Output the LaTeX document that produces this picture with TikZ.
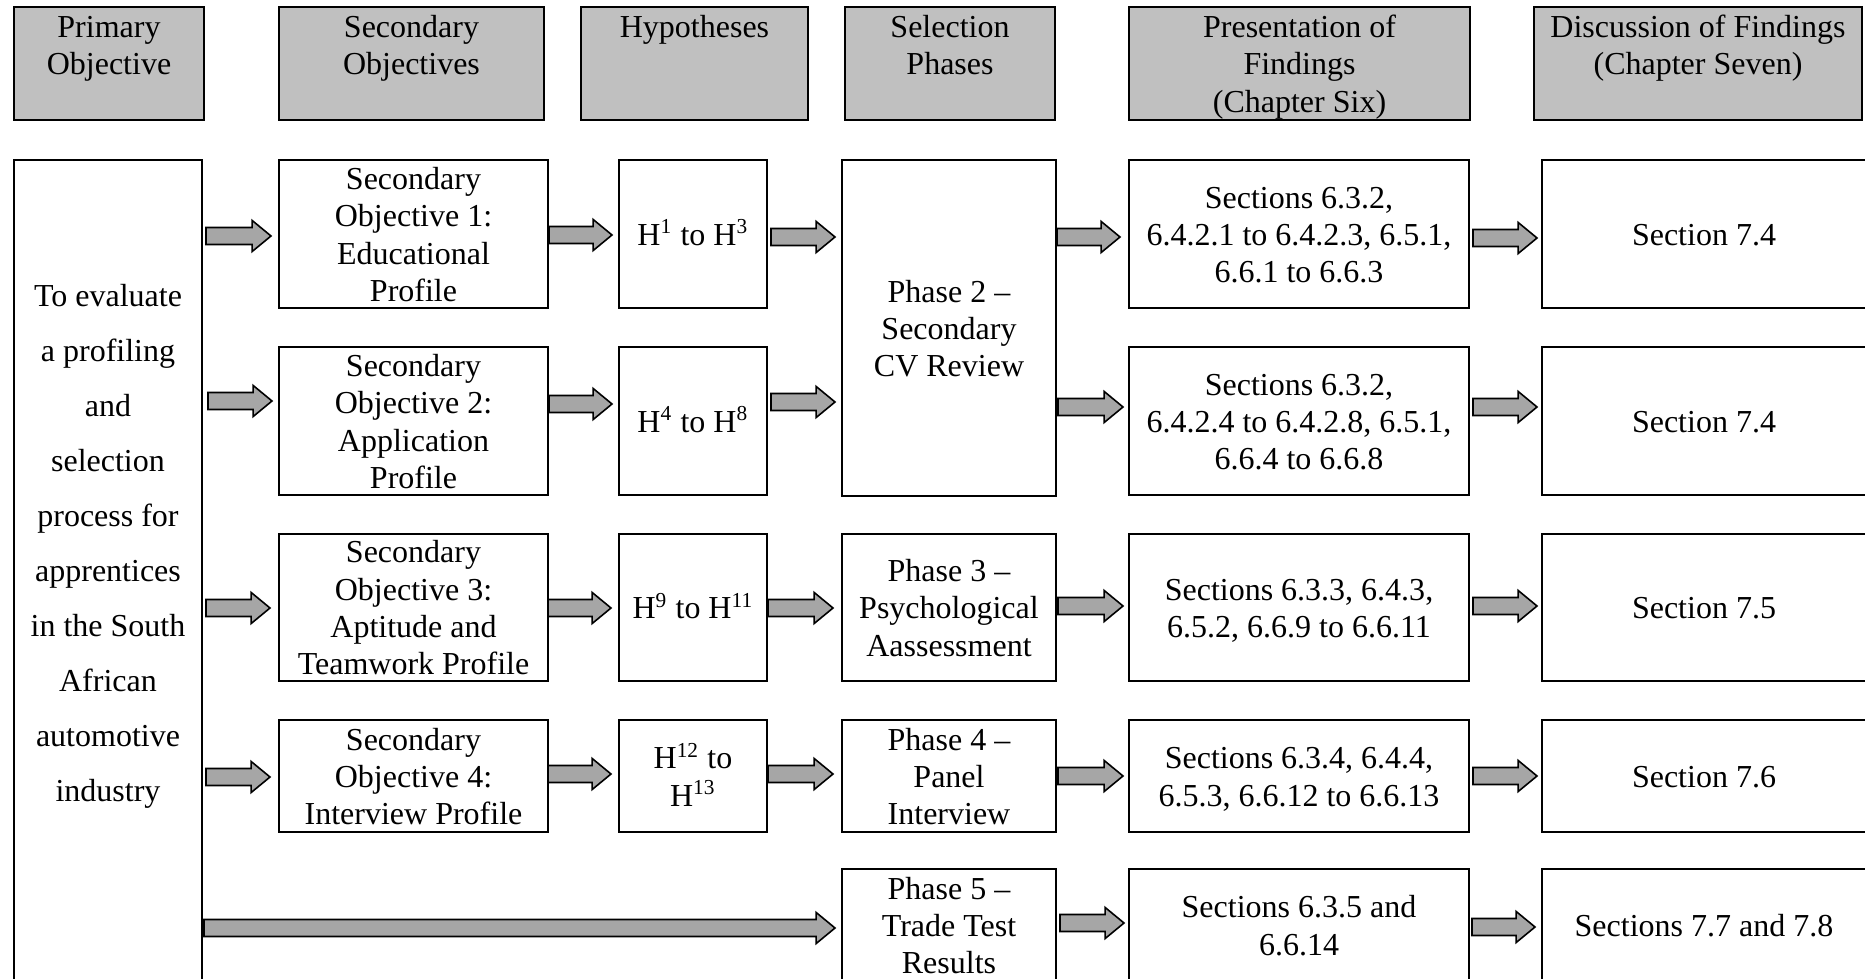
\documentclass[tikz,border=0pt]{standalone}
\usepackage{fontspec}
\setmainfont{Liberation Serif}
\usetikzlibrary{calc}
\definecolor{headgray}{RGB}{192,192,192}
\definecolor{arrowgray}{RGB}{166,166,166}

% block arrow between two named coordinates (same height)
\newcommand\blockarrow[2]{%
  \path[blockarrow] let \p1=(#1), \p2=(#2) in
    (\x1,\y1+3.2pt) -- (\x2-7.1pt,\y1+3.2pt) -- (\x2-7.1pt,\y1+5.85pt) -- (\x2,\y1)
    -- (\x2-7.1pt,\y1-5.85pt) -- (\x2-7.1pt,\y1-3.2pt) -- (\x1,\y1-3.2pt) -- cycle;}
\newcommand\barrow[4]{%
  \coordinate (#1s) at (#2,#4); \coordinate (#1e) at (#3,#4);
  \blockarrow{#1s}{#1e}}
% text block with struts on its first and last lines
\newcommand\strutlines[1]{\strut#1\strut}
% framed box with its text set slightly below the middle
\newcommand\tbox[3]{%
  \node[bodybox, place=#2] (#1) {};
  \node[bodytext] (#1t) at ($(#1.center)+(0,4)$) {\strutlines{#3}};}

\tikzset{
  frame/.style={draw, line width=0.65pt, inner sep=0pt, outer sep=0pt, align=center},
  headbox/.style={frame, fill=headgray},
  bodybox/.style={frame, fill=white},
  bodytext/.style={inner sep=0pt, align=center},
  place/.style args={#1/#2/#3/#4}{at={({(#1+#3)/2},{(#2+#4)/2})},
    minimum width={(#3-#1)*0.375pt}, minimum height={(#4-#2)*0.375pt}},
  headtext/.style={anchor=north, inner sep=0pt, align=center},
  blockarrow/.style={draw=black, fill=arrowgray, line width=0.6pt, line join=miter},
}

\begin{document}
\begin{tikzpicture}[x=0.375pt, y=-0.375pt, font=\fontsize{12}{14}\selectfont]
\useasboundingbox (0,0) rectangle (1865,979);
\fill[white] (0,0) rectangle (1865,979);
\clip (0,0) rectangle (1865,979);

% column headers
\node[headbox, place=14/7/204/120] (hPrim) {};
\node[headbox, place=279/7/544/120] (hSec) {};
\node[headbox, place=581/7/808/120] (hHyp) {};
\node[headbox, place=845/7/1055/120] (hSel) {};
\node[headbox, place=1129/7/1470/120] (hPres) {};
\node[headbox, place=1534/7/1862/120] (hDisc) {};
\node[headtext] (hPrimT) at ($(hPrim.north)+(0,4)$) {\strutlines{Primary\\Objective}};
\node[headtext] (hSecT) at ($(hSec.north)+(0,4)$) {\strutlines{Secondary\\Objectives}};
\node[headtext] (hHypT) at ($(hHyp.north)+(0,4)$) {\strutlines{Hypotheses}};
\node[headtext] (hSelT) at ($(hSel.north)+(0,4)$) {\strutlines{Selection\\Phases}};
\node[headtext] (hPresT) at ($(hPres.north)+(0,4)$) {\strutlines{Presentation of\\Findings\\(Chapter Six)}};
\node[headtext] (hDiscT) at ($(hDisc.north)+(0,4)$) {\strutlines{Discussion of Findings\\(Chapter Seven)}};

% primary objective
\node[frame, place=14/160/202/995] (prim) {};
\node[inner sep=0pt, align=center, font=\fontsize{12}{20.6}\selectfont] (primT) at (108,543)
  {\strutlines{To evaluate\\a profiling\\and\\selection\\process for\\apprentices\\in the South\\African\\automotive\\industry}};

% secondary objectives
\tbox{so1}{279/160/548/308}{Secondary\\Objective 1:\\Educational\\Profile}
\tbox{so2}{279/347/548/495}{Secondary\\Objective 2:\\Application\\Profile}
\tbox{so3}{279/534/548/681}{Secondary\\Objective 3:\\Aptitude and\\Teamwork Profile}
\tbox{so4}{279/720/548/832}{Secondary\\Objective 4:\\Interview Profile}

% hypotheses
\tbox{hy1}{619/160/767/308}{H\textsuperscript{1} to H\textsuperscript{3}}
\tbox{hy2}{619/347/767/495}{H\textsuperscript{4} to H\textsuperscript{8}}
\tbox{hy3}{619/534/767/681}{H\textsuperscript{9} to H\textsuperscript{11}}
\tbox{hy4}{619/720/767/832}{H\textsuperscript{12} to\\H\textsuperscript{13}}

% selection phases
\tbox{ph2}{842/160/1056/496}{Phase 2 --\\Secondary\\CV Review}
\tbox{ph3}{842/534/1056/681}{Phase 3 --\\Psychological\\Aassessment}
\tbox{ph4}{842/720/1056/832}{Phase 4 --\\Panel\\Interview}
\tbox{ph5}{842/869/1056/981}{Phase 5 --\\Trade Test\\Results}

% presentation of findings
\tbox{sec1}{1129/160/1469/308}{Sections 6.3.2,\\6.4.2.1 to 6.4.2.3, 6.5.1,\\6.6.1 to 6.6.3}
\tbox{sec2}{1129/347/1469/495}{Sections 6.3.2,\\6.4.2.4 to 6.4.2.8, 6.5.1,\\6.6.4 to 6.6.8}
\tbox{sec3}{1129/534/1469/681}{Sections 6.3.3, 6.4.3,\\6.5.2, 6.6.9 to 6.6.11}
\tbox{sec4}{1129/720/1469/832}{Sections 6.3.4, 6.4.4,\\6.5.3, 6.6.12 to 6.6.13}
\tbox{sec5}{1129/869/1469/981}{Sections 6.3.5 and\\6.6.14}

% discussion of findings
\tbox{dis1}{1542/160/1866/308}{Section 7.4}
\tbox{dis2}{1542/347/1866/495}{Section 7.4}
\tbox{dis3}{1542/534/1866/681}{Section 7.5}
\tbox{dis4}{1542/720/1866/832}{Section 7.6}
\tbox{dis5}{1542/869/1866/981}{Sections 7.7 and 7.8}

% arrows, row by row
\barrow{a11}{206}{271}{236}
\barrow{a12}{549}{612}{235}
\barrow{a13}{771}{835}{237}
\barrow{a14}{1057}{1120}{237}
\barrow{a15}{1473}{1537}{238}

\barrow{a21}{208}{272}{401}
\barrow{a22}{549}{612}{404}
\barrow{a23}{771}{835}{402}
\barrow{a24}{1058}{1123}{407}
\barrow{a25}{1473}{1537}{407}

\barrow{a31}{206}{270}{608}
\barrow{a32}{548}{611}{608}
\barrow{a33}{768}{833}{608}
\barrow{a34}{1058}{1123}{606}
\barrow{a35}{1473}{1537}{606}

\barrow{a41}{206}{270}{777}
\barrow{a42}{548}{611}{774}
\barrow{a43}{768}{833}{774}
\barrow{a44}{1058}{1123}{776}
\barrow{a45}{1473}{1537}{776}

\barrow{a51}{204}{835}{928}
\barrow{a54}{1060}{1124}{923}
\barrow{a55}{1472}{1535}{927}
\end{tikzpicture}
\end{document}
